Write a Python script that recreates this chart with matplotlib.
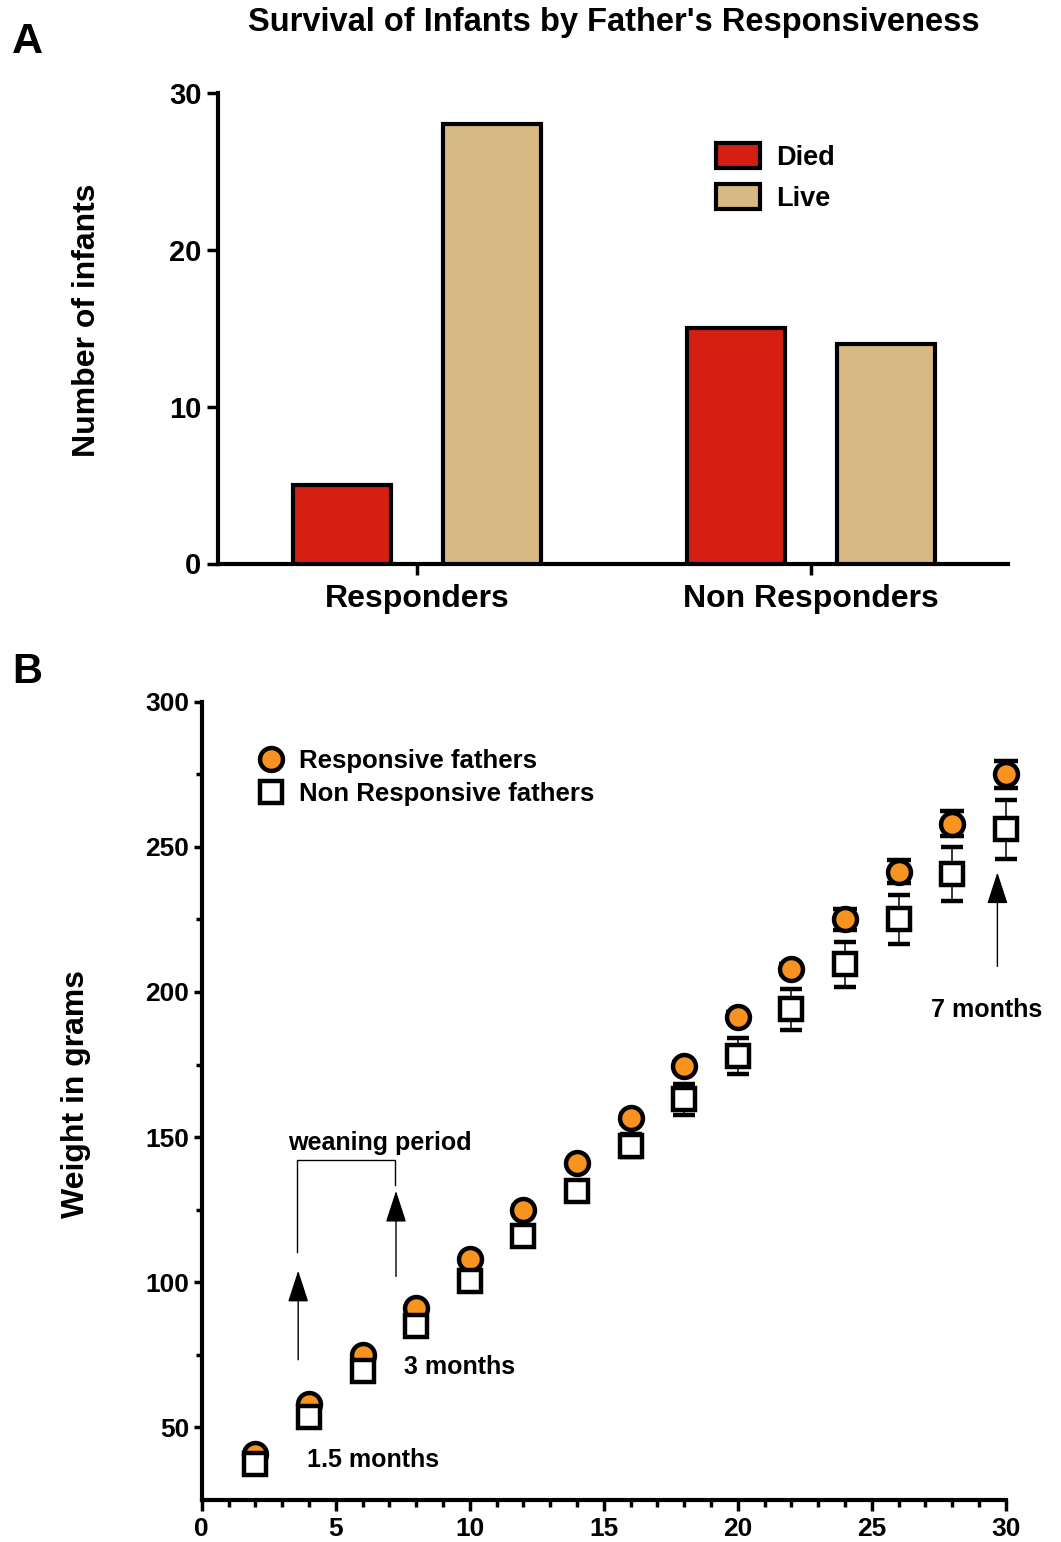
import numpy as np
import matplotlib.pyplot as plt
from matplotlib.patches import Patch
from matplotlib.lines import Line2D
from matplotlib.ticker import MultipleLocator

plt.rcParams['font.family'] = ['Liberation Sans', 'DejaVu Sans']
plt.rcParams['font.weight'] = 'bold'

# panel A data
groups = ["Responders", "Non Responders"]
died = [5, 15]
live = [28, 14]

# panel B data
age = [2, 4, 6, 8, 10, 12, 14, 16, 18, 20, 22, 24, 26, 28, 30]
resp = [41, 58, 75, 91, 108, 125, 141, 156.5, 174.5, 191.5, 208, 225, 241.5, 258, 275]
resp_err = [1, 1, 1, 1, 1, 1.2, 1.2, 1.5, 1.5, 1.5, 1.8, 3.7, 4.0, 4.3, 4.6]
nonresp = [37.5, 53.5, 69.5, 85, 100.5, 116, 131.5, 147, 163, 178, 194, 209.5, 225, 240.5, 256]
nonresp_err = [1.5, 2, 2, 2.5, 2.5, 3, 3, 4, 5.3, 6.1, 7.1, 7.7, 8.4, 9.3, 10.2]

RED = "#d41f12"
TAN = "#d9b983"
ORANGE = "#f7931e"

W, H = 1061, 1542
fig = plt.figure(figsize=(W / 100, H / 100), dpi=100)


def px(x, y):
    return x / W, 1 - y / H


# ---------------- panel A ----------------
axA = fig.add_axes([218 / W, 1 - 563.5 / H, (1008 - 218) / W, (563.5 - 93) / H])
xg = np.arange(len(groups))
axA.bar(xg - 0.19, died, 0.25, color=RED, edgecolor="black", linewidth=3, label="Died", zorder=3)
axA.bar(xg + 0.19, live, 0.25, color=TAN, edgecolor="black", linewidth=3, label="Live", zorder=3)
axA.set_xlim(-0.505, 1.5)
axA.set_ylim(0, 30)
axA.set_yticks([0, 10, 20, 30])
axA.set_xticks(xg)
axA.set_xticklabels(groups, fontsize=23, fontweight="bold")
for s in ["top", "right"]:
    axA.spines[s].set_visible(False)
for s in ["left", "bottom"]:
    axA.spines[s].set_linewidth(3)
axA.tick_params(axis="y", length=8, width=2.5, pad=4, labelsize=21)
axA.tick_params(axis="x", length=8, width=2.5, pad=7)
leg = axA.legend(handles=[Patch(facecolor=RED, edgecolor="black", linewidth=3, label="Died"),
                          Patch(facecolor=TAN, edgecolor="black", linewidth=3, label="Live")],
                 loc="upper left", bbox_to_anchor=px(692, 119), bbox_transform=fig.transFigure,
                 frameon=False, fontsize=19.5, handlelength=1.6, handleheight=1.0,
                 labelspacing=0.5, handletextpad=0.6)
for t in leg.get_texts():
    t.set_fontweight("bold")

fig.text(*px(614, 22), "Survival of Infants by Father's Responsiveness", fontsize=23.5,
         fontweight="bold", ha="center", va="center")
fig.text(*px(12, 42), "A", fontsize=31, fontweight="bold", ha="left", va="center")
fig.text(*px(87, 320), "Number of infants", fontsize=23, fontweight="bold",
         rotation=90, ha="center", va="center")

# ---------------- panel B ----------------
axB = fig.add_axes([201.7 / W, 1 - 1500 / H, (1005.7 - 201.7) / W, (1500 - 701.7) / H])
eb1 = axB.errorbar(age, resp, yerr=resp_err, fmt="o", ms=16.5, mfc=ORANGE, mec="black", mew=3.2,
                   ecolor="black", elinewidth=1.2, capsize=8.5, capthick=3, zorder=3)
eb2 = axB.errorbar(age, nonresp, yerr=nonresp_err, fmt="s", ms=15.5, mfc="white", mec="black", mew=3.2,
                   ecolor="black", elinewidth=1.1, capsize=8, capthick=1.1, zorder=4)
for eb in (eb1, eb2):
    for art in eb.get_children():
        art.set_clip_on(False)
axB.set_xlim(0, 30)
axB.set_ylim(25, 300)
axB.xaxis.set_major_locator(MultipleLocator(5))
axB.xaxis.set_minor_locator(MultipleLocator(1))
axB.set_yticks([50, 100, 150, 200, 250, 300])
axB.set_yticks([75, 125, 175, 225, 275], minor=True)
for s in ["top", "right"]:
    axB.spines[s].set_visible(False)
for s in ["left", "bottom"]:
    axB.spines[s].set_linewidth(3)
axB.tick_params(axis="y", which="major", length=6, width=2.5, pad=3, labelsize=19)
axB.tick_params(axis="y", which="minor", length=4, width=2.5)
axB.tick_params(axis="x", which="major", length=8, width=2.5, pad=4, labelsize=19)
axB.tick_params(axis="x", which="minor", length=5, width=2.5)

legB = axB.legend(handles=[Line2D([], [], marker="o", ls="none", ms=16.5, mfc=ORANGE, mec="black", mew=3.2,
                                  label="Responsive fathers"),
                           Line2D([], [], marker="s", ls="none", ms=15.5, mfc="white", mec="black", mew=3.2,
                                  label="Non Responsive fathers")],
                  loc="upper left", bbox_to_anchor=px(235, 726), bbox_transform=fig.transFigure,
                  frameon=False, fontsize=18.5, handlelength=1.0, labelspacing=0.35,
                  handletextpad=0.6)
for t in legB.get_texts():
    t.set_fontweight("bold")

# weaning bracket and arrows
axB.plot([3.54, 3.54, 7.21, 7.21], [110.6, 142.2, 142.2, 133.6], color="black", lw=1)
arrow = dict(arrowstyle="-|>,head_length=2.0,head_width=0.65", color="black", lw=1,
             shrinkA=0, shrinkB=0)
axB.annotate("", xy=(3.6, 104), xytext=(3.6, 73.3), arrowprops=arrow)
axB.annotate("", xy=(7.25, 131.5), xytext=(7.25, 102), arrowprops=arrow)
axB.annotate("", xy=(29.69, 241.2), xytext=(29.69, 208.8), arrowprops=arrow)

axB.text(6.65, 148, "weaning period", fontsize=18, fontweight="bold", ha="center", va="center")
axB.text(9.64, 70.9, "3 months", fontsize=18, fontweight="bold", ha="center", va="center")
axB.text(6.38, 38.9, "1.5 months", fontsize=18, fontweight="bold", ha="center", va="center")
axB.text(29.3, 193.8, "7 months", fontsize=18, fontweight="bold", ha="center", va="center",
         clip_on=False)

fig.text(*px(12, 672), "B", fontsize=30, fontweight="bold", ha="left", va="center")
fig.text(*px(76, 1094), "Weight in grams", fontsize=23, fontweight="bold",
         rotation=90, ha="center", va="center")

fig.savefig("out.png", dpi=100)
